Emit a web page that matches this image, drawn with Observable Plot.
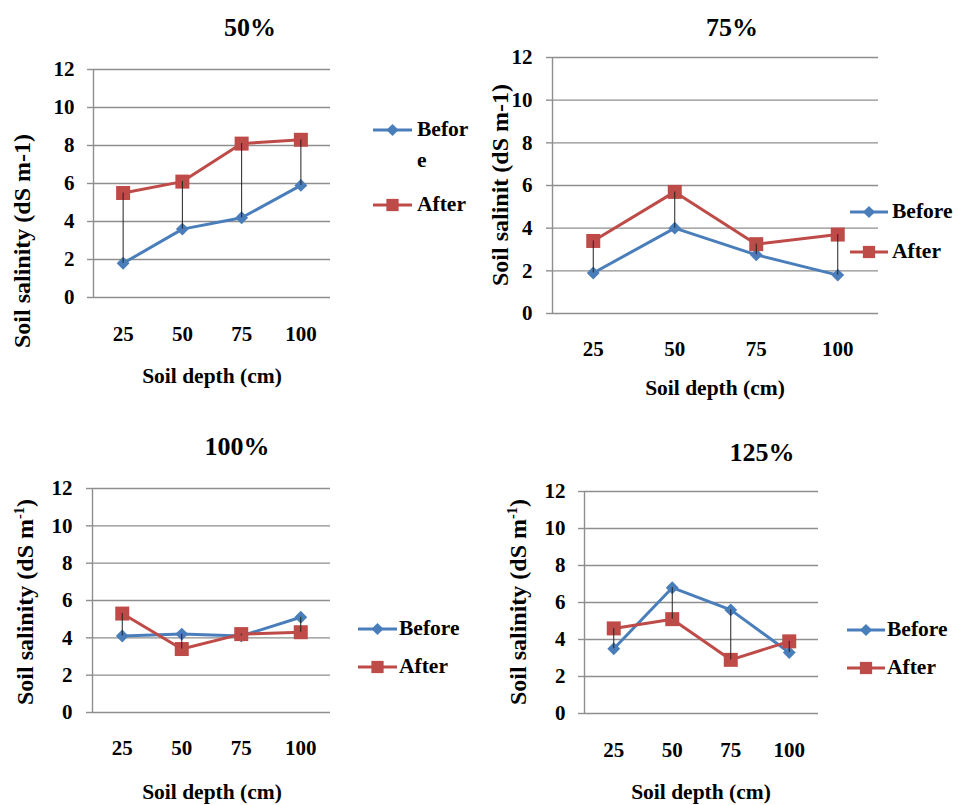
<!DOCTYPE html>
<html><head><meta charset="utf-8">
<script src="https://cdn.jsdelivr.net/npm/d3@7"></script>
<script src="https://cdn.jsdelivr.net/npm/@observablehq/plot@0.6"></script>
<style>
body{margin:0;background:#fff;}
#root{position:relative;width:958px;height:805px;overflow:hidden;font-family:'Liberation Serif','Times New Roman',serif;font-weight:bold;color:#000;}
.abs{position:absolute;white-space:nowrap;line-height:1;}
.ptitle{font-size:26px;transform:translate(-50%,-50%);}
.xtitle{font-size:21.5px;transform:translate(-50%,-50%);}
.ytitle{font-size:24px;transform:translate(-50%,-50%) rotate(-90deg);}
.ytitle sup{font-size:0.6em;vertical-align:0.6em;line-height:0;}
.leg{font-size:21.5px;line-height:31px;}
</style></head><body><div id="root"></div>
<script>
// ---- data ----
const depths = [25, 50, 75, 100];
const yTicks = [0, 2, 4, 6, 8, 10, 12];
const seriesNames = ["Before", "After"];
const panelTitles = ["50%", "75%", "100%", "125%"];
const before50 = [1.8, 3.6, 4.2, 5.9];
const after50 = [5.5, 6.1, 8.1, 8.3];
const before75 = [1.9, 4.0, 2.75, 1.8];
const after75 = [3.4, 5.7, 3.25, 3.7];
const before100 = [4.1, 4.2, 4.1, 5.1];
const after100 = [5.3, 3.4, 4.2, 4.3];
const before125 = [3.5, 6.8, 5.6, 3.3];
const after125 = [4.6, 5.1, 2.9, 3.9];
const xLabel = "Soil depth (cm)";
const yLabels = ["Soil salinity (dS m-1)", "Soil salinit (dS m-1)", "Soil salinity (dS m<sup>-1</sup>)", "Soil salinity (dS m<sup>-1</sup>)"];

// ---- styling / layout ----
const FONT = "'Liberation Serif', 'Times New Roman', serif";
const BLUE = "#4a7ebb", RED = "#be4b48", GRID = "#8e8e8e";
const layout = [
  {before: before50, after: after50, left: 0, top: 0, width: 479, height: 400, ml: 93, mr: 149, mt: 69, mb: 103, tp: 29, yp: 13,
   title: [250, 28], xt: [212, 377], yt: [22, 241], leg: {x1: 373, x2: 412, tx: 417, yB: 130, yA: 205, wrap: true}},
  {before: before75, after: after75, left: 479, top: 0, width: 479, height: 410, ml: 73, mr: 80, mt: 57, mb: 97, tp: 28, yp: 14,
   title: [732, 28], xt: [715, 389], yt: [500, 185], leg: {x1: 850, x2: 888, tx: 892, yB: 212, yA: 252}},
  {before: before100, after: after100, left: 0, top: 410, width: 479, height: 395, ml: 92, mr: 149, mt: 78, mb: 93, tp: 28, yp: 14,
   title: [237, 447], xt: [212, 793], yt: [25, 602], leg: {x1: 358, x2: 397, tx: 399, yB: 629, yA: 667}},
  {before: before125, after: after125, left: 479, top: 410, width: 479, height: 395, ml: 105, mr: 140, mt: 81, mb: 92, tp: 29, yp: 13,
   title: [762, 453], xt: [701, 793], yt: [518, 602], leg: {x1: 847, x2: 885, tx: 887, yB: 630, yA: 668}}
];

const root = document.getElementById("root");

function addDiv(cls, html, x, y) {
  const d = document.createElement("div");
  d.className = "abs " + cls;
  d.innerHTML = html;
  d.style.left = x + "px";
  d.style.top = y + "px";
  root.appendChild(d);
  return d;
}

function legendSwatch(color, symType, area, x1, x2, y) {
  const w = x2 - x1, h = 20;
  const svg = d3.select(root).append("svg")
    .style("position", "absolute").style("left", x1 + "px").style("top", (y - h / 2) + "px")
    .attr("width", w).attr("height", h);
  svg.append("line").attr("x1", 0).attr("x2", w).attr("y1", h / 2).attr("y2", h / 2)
    .attr("stroke", color).attr("stroke-width", 3);
  svg.append("path").attr("transform", `translate(${w / 2},${h / 2})`)
    .attr("d", d3.symbol(symType, area)()).attr("fill", color);
}

layout.forEach((p, k) => {
  const data = depths.map((d, i) => ({depth: d, before: p.before[i], after: p.after[i]}));
  const chart = Plot.plot({
    width: p.width, height: p.height,
    marginLeft: p.ml, marginRight: p.mr, marginTop: p.mt, marginBottom: p.mb,
    style: {fontFamily: FONT, fontSize: "21px", fontWeight: "bold", color: "#000", background: "transparent", overflow: "visible"},
    x: {domain: [12.5, 112.5]},
    y: {domain: [0, 12]},
    marks: [
      Plot.gridY(yTicks, {stroke: GRID, strokeOpacity: 1, strokeWidth: 1.4}),
      Plot.ruleX([12.5], {stroke: GRID, strokeWidth: 1.4}),
      Plot.axisY(yTicks, {tickSize: 6, tickPadding: p.yp, stroke: GRID, strokeWidth: 1.4, strokeOpacity: 1, fill: "#000", label: null, tickFormat: d => String(d)}),
      Plot.axisX(depths, {tickSize: 0, tickPadding: p.tp, fill: "#000", label: null, tickFormat: d => String(d)}),
      Plot.line(data, {x: "depth", y: "before", stroke: BLUE, strokeWidth: 3}),
      Plot.line(data, {x: "depth", y: "after", stroke: RED, strokeWidth: 3}),
      Plot.dot(data, {x: "depth", y: "before", symbol: "diamond2", r: 5.8, fill: BLUE}),
      Plot.dot(data, {x: "depth", y: "after", symbol: "square", r: 7.9, fill: RED}),
      Plot.ruleX(data, {x: "depth", y1: "before", y2: "after", stroke: "#222", strokeWidth: 1})
    ]
  });
  chart.style.position = "absolute";
  chart.style.left = p.left + "px";
  chart.style.top = p.top + "px";
  root.appendChild(chart);

  addDiv("ptitle", panelTitles[k], p.title[0], p.title[1]);
  addDiv("xtitle", xLabel, p.xt[0], p.xt[1]);
  addDiv("ytitle", yLabels[k], p.yt[0], p.yt[1]);

  const L = p.leg;
  legendSwatch(BLUE, d3.symbolDiamond2, 95, L.x1, L.x2, L.yB);
  legendSwatch(RED, d3.symbolSquare, 150, L.x1, L.x2, L.yA);
  const bName = L.wrap ? seriesNames[0].slice(0, 5) + "<br>" + seriesNames[0].slice(5) : seriesNames[0];
  addDiv("leg", bName, L.tx, L.yB - 16);
  addDiv("leg", seriesNames[1], L.tx, L.yA - 16);
});
</script>
</body></html>
